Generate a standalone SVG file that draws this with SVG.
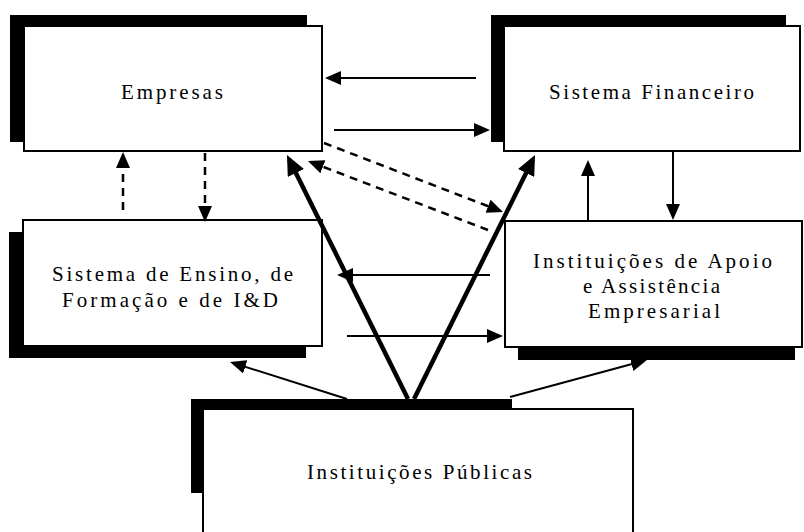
<svg xmlns="http://www.w3.org/2000/svg" width="804" height="532" viewBox="0 0 804 532">
<style>
.shadow{fill:#000;stroke:none}
.box{fill:#fff;stroke:#000;stroke-width:2}
.lbl{font-family:"Liberation Serif","Times New Roman",serif;font-size:21px;fill:#000}
.thin{stroke:#000;stroke-width:2;fill:none;marker-end:url(#ah)}
.dash{stroke:#000;stroke-width:2.5;fill:none;stroke-dasharray:8 6;marker-end:url(#ah)}
.thick{stroke:#000;stroke-width:4.5;fill:none;marker-end:url(#ahb)}
</style>
<defs>
<marker id="ah" markerUnits="userSpaceOnUse" markerWidth="16" markerHeight="14" refX="13" refY="7" orient="auto"><path d="M0,0L16,7L0,14z" fill="#000"/></marker>
<marker id="ahb" markerUnits="userSpaceOnUse" markerWidth="20" markerHeight="18" refX="15" refY="9" orient="auto"><path d="M0,0L20,9L0,18z" fill="#000"/></marker>
</defs>
<rect width="804" height="532" fill="#fff"/>
<g id="empresas">
<rect class="shadow" x="10" y="15" width="297" height="127"/>
<rect class="box" x="24" y="26" width="298" height="125"/>
<text class="lbl" x="121" y="99" textLength="102" lengthAdjust="spacing">Empresas</text>
</g>
<g id="sistema-financeiro">
<rect class="shadow" x="491" y="15" width="295" height="127"/>
<rect class="box" x="504" y="26" width="296" height="125"/>
<text class="lbl" x="549" y="99" textLength="205" lengthAdjust="spacing">Sistema Financeiro</text>
</g>
<g id="sistema-ensino">
<rect class="shadow" x="9" y="232" width="297" height="126"/>
<rect class="box" x="23" y="220" width="299" height="126"/>
<text class="lbl" x="52" y="281" textLength="241" lengthAdjust="spacing">Sistema de Ensino, de</text>
<text class="lbl" x="62" y="307" textLength="216" lengthAdjust="spacing">Formação e de I&amp;D</text>
</g>
<g id="instituicoes-apoio">
<rect class="shadow" x="518" y="234" width="277" height="126"/>
<rect class="box" x="505" y="221" width="297" height="126"/>
<text class="lbl" x="533" y="268" textLength="239" lengthAdjust="spacing">Instituições de Apoio</text>
<text class="lbl" x="583" y="293" textLength="137" lengthAdjust="spacing">e Assistência</text>
<text class="lbl" x="588" y="318" textLength="132" lengthAdjust="spacing">Empresarial</text>
</g>
<g id="instituicoes-publicas">
<rect class="shadow" x="191" y="399" width="321" height="94"/>
<rect class="box" x="203" y="409" width="430" height="135"/>
<text class="lbl" x="307" y="479" textLength="225" lengthAdjust="spacing">Instituições Públicas</text>
</g>
<g id="connectors">
<line class="thin" x1="476" y1="78" x2="328" y2="78"/>
<line class="thin" x1="334" y1="130" x2="487" y2="130"/>
<line class="dash" x1="123" y1="210" x2="123" y2="155"/>
<line class="dash" x1="205" y1="153" x2="205" y2="219"/>
<line class="dash" x1="324" y1="143" x2="500.2" y2="210.9"/>
<line class="dash" x1="488" y1="230" x2="310.8" y2="162.1"/>
<line class="thick" x1="408" y1="399" x2="289.2" y2="159.5"/>
<line class="thick" x1="414" y1="399" x2="532.8" y2="159.5"/>
<line class="thin" x1="347" y1="399" x2="232.9" y2="362.9"/>
<line class="thin" x1="510" y1="397" x2="644.1" y2="360.8"/>
<line class="thin" x1="490" y1="275" x2="340" y2="275"/>
<line class="thin" x1="347" y1="336" x2="500" y2="336"/>
<line class="thin" x1="588" y1="221" x2="588" y2="163"/>
<line class="thin" x1="673" y1="152" x2="673" y2="217"/>
</g>
</svg>
